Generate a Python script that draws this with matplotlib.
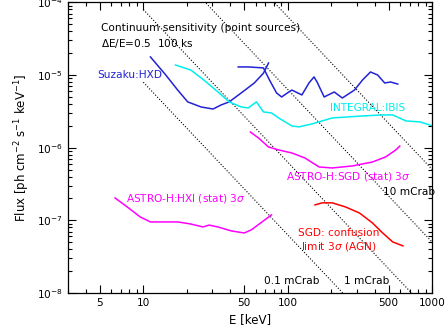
import numpy as np
import matplotlib
matplotlib.use("Agg")
import matplotlib.pyplot as plt
from matplotlib.ticker import FixedLocator, NullFormatter, LogLocator

# Suzaku HXD (two pieces)
hxd1_e = [11.2, 14.3, 17.3, 20.3, 25.1, 30.4, 34.5, 39.3, 47.6, 58.7, 67.9, 73.6]
hxd1_f = [1.77e-5, 1.0e-5, 6.2e-6, 4.26e-6, 3.63e-6, 3.4e-6, 3.86e-6, 4.26e-6,
          5.65e-6, 7.76e-6, 1.06e-5, 1.46e-5]
hxd2_e = [45.4, 53.3, 67.9, 74.8, 83.7, 90.7, 101.7, 106.7, 125.3, 140.3, 152,
          159.6, 178.7, 209.9, 238.8, 289.6, 329, 374, 419, 469, 516, 578]
hxd2_f = [1.29e-5, 1.29e-5, 1.25e-5, 8.5e-6, 5.65e-6, 4.98e-6, 5.83e-6, 6.2e-6,
          5.31e-6, 7.76e-6, 9.4e-6, 8.0e-6, 4.98e-6, 5.83e-6, 4.82e-6, 6.2e-6,
          8.5e-6, 1.1e-5, 1.0e-5, 7.76e-6, 8.0e-6, 7.5e-6]

# INTEGRAL IBIS
ibis_e = [16.7, 21.3, 26.3, 32.9, 39.3, 47.6, 53.3, 60.7, 67.9, 77.3, 86.5,
          106.7, 119.4, 147, 203, 329, 454, 533, 658, 824, 1000]
ibis_f = [1.37e-5, 1.17e-5, 8.5e-6, 5.83e-6, 4.26e-6, 3.63e-6, 3.52e-6, 4.26e-6,
          3.1e-6, 3.0e-6, 2.56e-6, 1.99e-6, 1.93e-6, 2.12e-6, 2.56e-6, 2.73e-6,
          2.82e-6, 2.82e-6, 2.33e-6, 2.26e-6, 2.0e-6]

# ASTRO-H SGD (stat) 3 sigma
sgd_e = [55.1, 62.7, 73.6, 86.5, 106.7, 131.5, 164.8, 203, 280.5, 386, 476, 560, 597]
sgd_f = [1.64e-6, 1.36e-6, 1.02e-6, 9.3e-7, 8.45e-7, 7.2e-7, 5.42e-7, 5.25e-7,
         5.6e-7, 6.35e-7, 7.45e-7, 9.3e-7, 1.05e-6]

# ASTRO-H HXI (stat) 3 sigma
hxi_e = [6.37, 7.73, 9.53, 11.2, 13.8, 17.3, 21.3, 25.9, 28.5, 32.9, 40.6, 50.0, 56, 77.3]
hxi_f = [2.03e-7, 1.53e-7, 1.11e-7, 9.5e-8, 9.5e-8, 9.5e-8, 8.9e-8, 8.1e-8,
         8.6e-8, 8.1e-8, 7.15e-8, 6.7e-8, 7.4e-8, 1.19e-7]

# SGD confusion limit
conf_e = [154.5, 173, 203, 250.6, 314, 386, 454, 533, 627]
conf_f = [1.63e-7, 1.74e-7, 1.74e-7, 1.53e-7, 1.26e-7, 9.2e-8, 6.7e-8, 5.04e-8, 4.45e-8]

# Crab-scaled reference lines (mCrab)
crab_levels = [0.1, 1, 10, 100]
crab_norm = 10.0
crab_index = 2.1

fig = plt.figure(figsize=(4.46, 3.27), dpi=100)
ax = fig.add_axes([0.152, 0.104, 0.817, 0.889])
fs = 7.6

e_line = np.logspace(1, 3, 50)
for lvl in crab_levels:
    ax.plot(e_line, crab_norm * lvl / 1000 * e_line ** -crab_index,
            color='black', lw=0.8, ls=(0, (1, 1.6)))

blue = '#2222d6'
cyan = '#00eeee'
mag = '#ff00ff'
red = '#ff0000'
ax.plot(hxd1_e, hxd1_f, color=blue, lw=1.1)
ax.plot(hxd2_e, hxd2_f, color=blue, lw=1.1)
ax.plot(ibis_e, ibis_f, color=cyan, lw=1.1)
ax.plot(sgd_e, sgd_f, color=mag, lw=1.1)
ax.plot(hxi_e, hxi_f, color=mag, lw=1.1)
ax.plot(conf_e, conf_f, color=red, lw=1.1)

ax.set_xscale('log')
ax.set_yscale('log')
ax.set_xlim(3, 1000)
ax.set_ylim(1e-8, 1e-4)

xt = [5, 10, 50, 100, 500, 1000]
ax.xaxis.set_major_locator(FixedLocator(xt))
ax.set_xticklabels([str(v) for v in xt])
ax.xaxis.set_minor_locator(FixedLocator([3, 4, 6, 7, 8, 9, 20, 30, 40, 60, 70, 80, 90,
                                         200, 300, 400, 600, 700, 800, 900]))
ax.xaxis.set_minor_formatter(NullFormatter())
ax.yaxis.set_major_locator(LogLocator(base=10, numticks=10))
ax.yaxis.set_minor_locator(LogLocator(base=10, subs=np.arange(2, 10), numticks=20))
ax.yaxis.set_minor_formatter(NullFormatter())

ax.tick_params(which='both', direction='in', top=True, right=True, labelsize=fs, width=0.8)
ax.tick_params(which='major', length=6)
ax.tick_params(which='minor', length=3)
for s in ax.spines.values():
    s.set_linewidth(0.9)

ax.set_xlabel('E [keV]', fontsize=8.5, labelpad=4)
ax.set_ylabel(r'Flux [ph cm$^{-2}$ s$^{-1}$ keV$^{-1}$]', fontsize=8.5, labelpad=4)

ax.text(5.1, 4.4e-5, 'Continuum sensitivity (point sources)', fontsize=fs, va='center')
ax.text(5.1, 2.75e-5, r'$\Delta$E/E=0.5  100 ks', fontsize=fs, va='center')
ax.text(4.77, 1.0e-5, 'Suzaku:HXD', fontsize=fs, color=blue, va='center')
ax.text(197, 3.5e-6, 'INTEGRAL:IBIS', fontsize=fs, color=cyan, va='center')
ax.text(97, 3.95e-7, r'ASTRO-H:SGD (stat) 3$\sigma$', fontsize=fs, color=mag, va='center')
ax.text(454, 2.46e-7, '10 mCrab', fontsize=fs, va='center')
ax.text(7.6, 1.97e-7, r'ASTRO-H:HXI (stat) 3$\sigma$', fontsize=fs, color=mag, va='center')
ax.text(227, 6.7e-8, 'SGD: confusion', fontsize=fs, color=red, va='center', ha='center')
ax.text(227, 4.3e-8, r'limit 3$\sigma$ (AGN)', fontsize=fs, color=red, va='center', ha='center')
ax.text(68, 1.47e-8, '0.1 mCrab', fontsize=fs, va='center')
ax.text(246, 1.47e-8, '1 mCrab', fontsize=fs, va='center')

fig.savefig('out.png', dpi=100)
